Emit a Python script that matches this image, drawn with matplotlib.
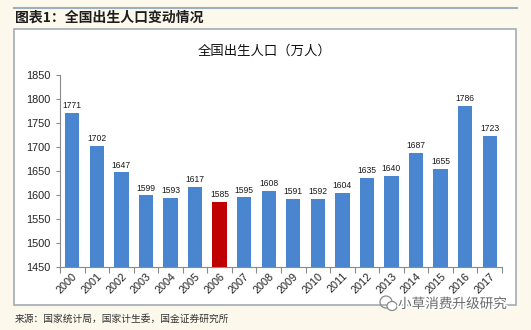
import matplotlib
matplotlib.use("Agg")
import matplotlib.pyplot as plt
import matplotlib.patheffects as pe
from matplotlib.patches import Rectangle, Ellipse
from matplotlib.lines import Line2D
import numpy as np

years = ["2000", "2001", "2002", "2003", "2004", "2005", "2006", "2007", "2008",
         "2009", "2010", "2011", "2012", "2013", "2014", "2015", "2016", "2017"]
births = [1771, 1702, 1647, 1599, 1593, 1617, 1585, 1595, 1608,
          1591, 1592, 1604, 1635, 1640, 1687, 1655, 1786, 1723]
highlight_year = "2006"
yticks = [1450, 1500, 1550, 1600, 1650, 1700, 1750, 1800, 1850]

plt.rcParams['font.family'] = ['Noto Sans CJK SC', 'DejaVu Sans']

W, H = 531, 330
fig = plt.figure(figsize=(W / 100, H / 100), dpi=100)
bg = "#fcf8ec"
fig.patch.set_facecolor(bg)

def fx(px):
    return px / W

def fy(py):
    return 1 - py / H

# top rule
fig.add_artist(Line2D([fx(14), fx(517)], [fy(8), fy(8)], color="#9fb0bd", lw=1.5))
# header
fig.text(fx(15), fy(17.5), "图表1：全国出生人口变动情况", fontsize=10, fontweight="bold",
         color="#1e1e1e", ha="left", va="center")
# chart box
fig.add_artist(Rectangle((fx(14), fy(305)), fx(516) - fx(14), fy(29) - fy(305),
                         facecolor="white", edgecolor="#a3acb4", lw=1.2,
                         transform=fig.transFigure, zorder=0))

ax = fig.add_axes([fx(60), fy(267), fx(502) - fx(60), fy(75) - fy(267)])
ax.set_facecolor("white")
x = np.arange(len(years))
colors = ["#c00000" if y == highlight_year else "#4a86cf" for y in years]
ax.bar(x, [b - yticks[0] for b in births], bottom=yticks[0], width=0.58,
       color=colors, zorder=2)
for xi, b in zip(x, births):
    ax.text(xi, b + 6, str(b), ha="center", va="bottom", fontsize=6.2,
            family=["Liberation Sans", "DejaVu Sans"], color="#1a1a1a")

ax.set_xlim(-0.5, len(years) - 0.5)
ax.set_ylim(yticks[0], yticks[-1])
ax.set_yticks(yticks)
ax.set_yticklabels([str(t) for t in yticks], family=["Liberation Sans", "DejaVu Sans"],
                   fontsize=7.8, color="#222222")
ax.set_xticks(x)
ax.set_xticklabels(years, rotation=45, ha="right", va="top", rotation_mode="anchor",
                   family=["Liberation Sans", "DejaVu Sans"], fontsize=7.8, color="#222222")
ax.tick_params(axis="x", which="major", length=0, pad=3)
ax.set_xticks(np.arange(-0.5, len(years), 1.0), minor=True)
ax.tick_params(axis="x", which="minor", length=4, color="#8a8a8a", width=0.8)
ax.tick_params(axis="y", length=3, color="#8a8a8a", width=0.8, pad=4)
for s in ["top", "right"]:
    ax.spines[s].set_visible(False)
for s in ["left", "bottom"]:
    ax.spines[s].set_color("#8a8a8a")
    ax.spines[s].set_linewidth(0.8)

# chart title
fig.text(fx(265), fy(50.5), "全国出生人口（万人）", fontsize=9.6, color="#111111",
         ha="center", va="center")

# source
fig.text(fx(15), fy(319), "来源：国家统计局，国家计生委，国金证券研究所", fontsize=7,
         color="#333333", ha="left", va="center")

# watermark
wm = fig.text(fx(398), fy(304), "小草消费升级研究", fontsize=9.8, color="#6a6a6a",
              ha="left", va="center")
wm.set_path_effects([pe.withStroke(linewidth=2.2, foreground="white")])
fig.add_artist(Ellipse((fx(386), fy(302)), fx(12), 12 / H, facecolor="none",
                       edgecolor="#8a8a8a", lw=0.9, transform=fig.transFigure))
fig.add_artist(Ellipse((fx(392), fy(306)), fx(10), 9 / H, facecolor="white",
                       edgecolor="#8a8a8a", lw=0.9, transform=fig.transFigure))

fig.savefig("out.png", dpi=100, facecolor=bg)
